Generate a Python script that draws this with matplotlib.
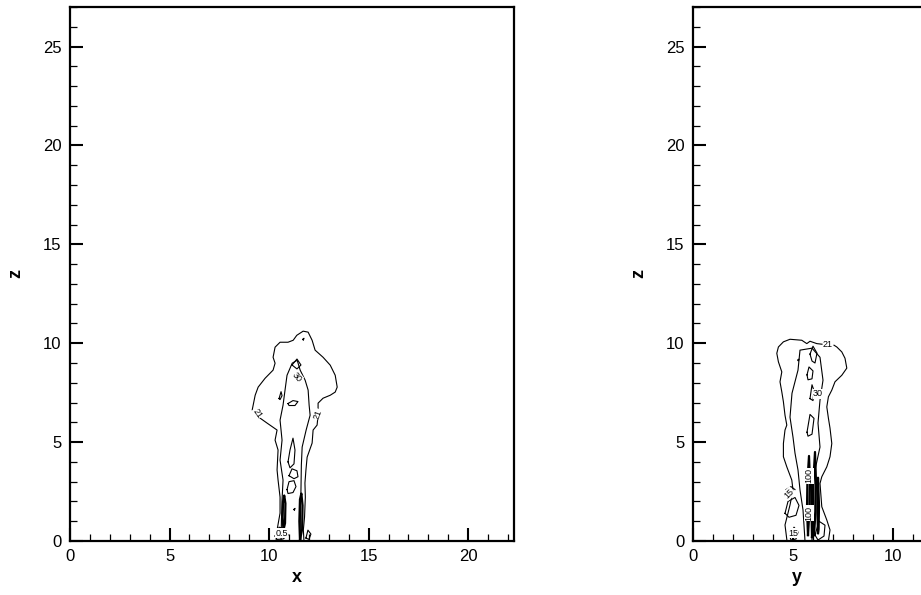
import matplotlib
matplotlib.use("Agg")
import matplotlib.pyplot as plt
from matplotlib.ticker import MultipleLocator

plt.rcParams['font.family'] = ['Liberation Sans', 'DejaVu Sans']

# ---------------- data ----------------
x_range = (0, 22.3)
y_range = (0, 11.4)          # right panel is cut by the picture edge
z_range = (0, 27)
x_major = [0, 5, 10, 15, 20]
y_major = [0, 5, 10]
z_major = [0, 5, 10, 15, 20, 25]

# Left panel (x-z plane): contour lines as (x, z) lists
xz_outer_21_x = [10.35, 10.40, 10.55, 10.55, 10.45, 10.40, 10.45, 10.30, 10.40, 9.90, 9.55, 9.30,
                 9.15, 9.20, 9.30, 9.45, 9.80, 10.20, 10.30, 10.20, 10.30, 10.55, 10.95, 11.21,
                 11.39, 11.71, 11.96, 12.16, 12.31, 12.71, 13.07, 13.32, 13.42, 13.32, 13.07,
                 12.71, 12.46, 12.46, 12.41, 12.21, 12.16, 11.91, 11.85, 11.80, 11.82, 11.78,
                 11.72, 11.75]
xz_outer_21_z = [0.00, 0.56, 1.41, 2.22, 3.08, 3.59, 4.60, 5.10, 5.61, 5.96, 6.21, 6.46,
                 6.62, 6.87, 7.37, 7.78, 8.23, 8.64, 8.99, 9.29, 9.80, 10.05, 10.05, 10.15,
                 10.40, 10.61, 10.56, 10.15, 9.65, 9.29, 8.89, 8.38, 7.78, 7.53, 7.37,
                 7.22, 6.97, 6.36, 5.86, 5.61, 4.95, 4.24, 3.59, 2.93, 2.22, 1.21,
                 0.56, 0.00]
xz_inner_30_x = [10.60, 10.62, 10.65, 10.70, 10.55, 10.65, 10.55, 10.70, 10.80, 10.90, 11.16,
                 11.41, 11.56, 11.81, 11.96, 12.01, 12.06, 11.86, 11.66, 11.62, 11.60, 11.58, 11.60]
xz_inner_30_z = [0.00, 1.06, 2.07, 3.08, 4.09, 5.10, 6.11, 6.87, 7.63, 8.38, 8.99,
                 9.14, 8.64, 8.13, 7.63, 6.87, 6.36, 5.61, 4.75, 3.84, 2.58, 1.31, 0.00]
xz_core_a_x = [10.72, 10.68, 10.70, 10.76, 10.82, 10.80, 10.72]
xz_core_a_z = [0.55, 1.20, 2.00, 2.30, 1.90, 0.90, 0.55]
xz_core_b_x = [11.55, 11.52, 11.55, 11.62, 11.68, 11.66, 11.55]
xz_core_b_z = [0.05, 1.00, 2.10, 2.40, 1.80, 0.60, 0.05]
xz_core_c_x = [10.95, 11.05, 11.20, 11.30, 11.25, 11.05, 10.95]
xz_core_c_z = [4.00, 4.60, 5.20, 4.60, 3.90, 3.70, 4.00]
xz_core_d_x = [10.90, 11.00, 11.25, 11.35, 11.20, 10.95, 10.90]
xz_core_d_z = [2.60, 3.00, 3.05, 2.75, 2.45, 2.40, 2.60]
xz_core_e_x = [11.00, 11.15, 11.40, 11.45, 11.25, 11.00]
xz_core_e_z = [3.30, 3.65, 3.55, 3.25, 3.15, 3.30]
xz_blob1_x = [11.15, 11.40, 11.60, 11.40, 11.15]
xz_blob1_z = [8.90, 9.20, 8.90, 8.70, 8.90]
xz_blob2_x = [10.50, 10.60, 10.65, 10.55, 10.50]
xz_blob2_z = [7.20, 7.55, 7.35, 7.15, 7.20]
xz_blob3_x = [10.95, 11.20, 11.45, 11.30, 11.00, 10.95]
xz_blob3_z = [6.95, 7.10, 7.05, 6.85, 6.85, 6.95]
xz_blob4_x = [10.30, 10.50, 10.80, 10.95, 10.70, 10.40, 10.30]
xz_blob4_z = [0.25, 0.70, 0.60, 0.30, 0.10, 0.08, 0.25]
xz_blob5_x = [11.85, 11.95, 12.10, 12.00, 11.85]
xz_blob5_z = [0.15, 0.55, 0.35, 0.08, 0.15]
xz_dot_x = [11.70, 11.75, 11.72, 11.70]
xz_dot_z = [10.20, 10.25, 10.15, 10.20]
xz_dot2_x = [11.25, 11.30, 11.27, 11.25]
xz_dot2_z = [1.60, 1.65, 1.55, 1.60]
xz_labels = [("21", 9.40, 6.45, -55), ("21", 12.46, 6.40, 70), ("30", 11.40, 8.30, -50),
             ("0.5", 10.62, 0.40, 0)]

# Right panel (y-z plane)
yz_outer_21_y = [4.70, 4.60, 4.85, 5.00, 4.94, 4.69, 4.52, 4.52, 4.60, 4.69, 4.60, 4.52, 4.44,
                 4.35, 4.44, 4.27, 4.19, 4.27, 4.52, 4.85, 5.44, 5.69, 5.85, 6.19, 6.45]
yz_outer_21_z = [0.00, 0.81, 1.82, 2.58, 3.08, 3.75, 4.26, 4.93, 5.61, 5.86, 6.36, 7.04, 7.54,
                 8.05, 8.55, 9.06, 9.49, 9.81, 10.07, 10.20, 10.15, 9.98, 10.10, 9.98, 9.95]
yz_outer_21b_y = [7.05, 7.19, 7.44, 7.60, 7.69, 7.44, 7.10, 6.94, 6.77, 6.69, 6.77, 6.85, 6.94,
                  6.85, 6.69, 6.44, 6.35, 6.44, 6.69, 6.85, 6.77]
yz_outer_21b_z = [9.90, 9.81, 9.56, 9.24, 8.74, 8.38, 8.05, 7.63, 7.29, 6.78, 6.21, 5.71, 4.93,
                  4.26, 3.75, 3.25, 2.91, 1.73, 1.06, 0.56, 0.00]
yz_inner_30_y = [5.60, 5.50, 5.35, 5.25, 5.10, 5.00, 4.85, 4.95, 5.25, 5.35, 5.95, 6.35, 6.50,
                 6.35, 6.25, 6.35, 6.10, 5.95, 5.95]
yz_inner_30_z = [0.00, 1.57, 2.58, 3.59, 4.44, 5.25, 6.26, 7.47, 8.64, 9.65, 9.75, 9.29, 8.13,
                 7.12, 5.96, 4.75, 3.59, 2.07, 0.00]
yz_core_a_y = [5.75, 5.70, 5.72, 5.80, 5.85, 5.82, 5.75]
yz_core_a_z = [0.30, 1.60, 3.00, 4.30, 3.00, 1.50, 0.30]
yz_core_b_y = [6.05, 6.00, 6.02, 6.10, 6.15, 6.12, 6.05]
yz_core_b_z = [0.30, 1.50, 3.10, 4.50, 3.00, 1.40, 0.30]
yz_core_c_y = [5.95, 5.92, 5.95, 6.00, 5.98, 5.95]
yz_core_c_z = [0.20, 1.80, 3.60, 2.00, 0.50, 0.20]
yz_core_d_y = [6.25, 6.22, 6.25, 6.30, 6.28, 6.25]
yz_core_d_z = [0.40, 1.50, 3.20, 1.80, 0.60, 0.40]
yz_blob1_y = [5.85, 6.00, 6.20, 6.10, 5.95, 5.85]
yz_blob1_z = [9.45, 9.85, 9.50, 9.00, 9.10, 9.45]
yz_blob2_y = [5.70, 5.80, 6.00, 5.95, 5.75, 5.70]
yz_blob2_z = [8.40, 8.80, 8.60, 8.20, 8.15, 8.40]
yz_blob3_y = [5.85, 5.95, 6.05, 6.00, 5.85]
yz_blob3_z = [7.20, 7.90, 7.60, 7.10, 7.20]
yz_blob4_y = [5.70, 5.85, 6.05, 5.95, 5.75, 5.70]
yz_blob4_z = [5.50, 6.40, 6.20, 5.40, 5.30, 5.50]
yz_blob5_y = [4.60, 4.75, 5.10, 5.30, 5.15, 4.80, 4.60]
yz_blob5_z = [1.40, 2.00, 2.20, 1.80, 1.30, 1.20, 1.40]
yz_blob6_y = [6.10, 6.30, 6.60, 6.55, 6.25, 6.10]
yz_blob6_z = [0.30, 1.00, 0.80, 0.25, 0.05, 0.30]
yz_blob7_y = [4.85, 5.05, 5.25, 5.15, 4.90, 4.85]
yz_blob7_z = [0.20, 0.70, 0.45, 0.10, 0.05, 0.20]
yz_dash_y = [4.65, 4.90, 5.10]
yz_dash_z = [2.60, 2.75, 2.60]
yz_dot_y = [5.25, 5.30, 5.27, 5.25]
yz_dot_z = [9.15, 9.20, 9.10, 9.15]
yz_labels = [("21", 6.75, 9.92, 0), ("30", 6.25, 7.45, 0), ("100", 5.80, 3.30, 90),
             ("100", 5.80, 1.40, 90), ("15", 4.80, 2.40, 45), ("15", 5.00, 0.40, 0)]

# ---------------- figure ----------------
FW, FH = 921, 595
fig = plt.figure(figsize=(FW / 100, FH / 100), dpi=100)
ax1 = fig.add_axes([70 / FW, 54 / FH, 444 / FW, 534 / FH])
ax2 = fig.add_axes([693 / FW, 54 / FH, 228 / FW, 534 / FH])

lw = 0.8
panels = [
    (ax1, [(xz_outer_21_x, xz_outer_21_z), (xz_inner_30_x, xz_inner_30_z),
           (xz_core_c_x, xz_core_c_z), (xz_core_d_x, xz_core_d_z), (xz_core_e_x, xz_core_e_z),
           (xz_blob1_x, xz_blob1_z), (xz_blob2_x, xz_blob2_z), (xz_blob3_x, xz_blob3_z),
           (xz_blob4_x, xz_blob4_z), (xz_blob5_x, xz_blob5_z), (xz_dot_x, xz_dot_z),
           (xz_dot2_x, xz_dot2_z)],
     [(xz_core_a_x, xz_core_a_z), (xz_core_b_x, xz_core_b_z)],
     xz_labels, "x", x_range, x_major, 444),
    (ax2, [(yz_outer_21_y, yz_outer_21_z), (yz_outer_21b_y, yz_outer_21b_z),
           (yz_inner_30_y, yz_inner_30_z),
           (yz_blob1_y, yz_blob1_z), (yz_blob2_y, yz_blob2_z), (yz_blob3_y, yz_blob3_z),
           (yz_blob4_y, yz_blob4_z), (yz_blob5_y, yz_blob5_z), (yz_blob6_y, yz_blob6_z),
           (yz_blob7_y, yz_blob7_z), (yz_dash_y, yz_dash_z), (yz_dot_y, yz_dot_z)],
     [(yz_core_a_y, yz_core_a_z), (yz_core_b_y, yz_core_b_z),
      (yz_core_c_y, yz_core_c_z), (yz_core_d_y, yz_core_d_z)],
     yz_labels, "y", y_range, y_major, 228),
]
label_x_px = {"x": 297 - 70, "y": 797 - 693}
for ax, lines, dense, labels, xl, xr, xmaj, wpx in panels:
    for xs, zs in lines:
        ax.plot(xs, zs, color="black", lw=lw, solid_joinstyle="round")
    for xs, zs in dense:
        ax.plot(xs, zs, color="black", lw=1.6, solid_joinstyle="round")
    for txt, xv, zv, rot in labels:
        ax.text(xv, zv, txt, fontsize=6.5, rotation=rot, ha="center", va="center",
                color="black", bbox=dict(facecolor="white", edgecolor="none", pad=0.3))
    ax.set_xlim(*xr)
    ax.set_ylim(*z_range)
    ax.set_xticks(xmaj)
    ax.set_yticks(z_major)
    ax.xaxis.set_minor_locator(MultipleLocator(1))
    ax.yaxis.set_minor_locator(MultipleLocator(1))
    ax.tick_params(which="major", direction="in", length=9.5, width=1.5, labelsize=12,
                   top=False, right=False, pad=6)
    ax.tick_params(which="minor", direction="in", length=5, width=0.9,
                   top=False, right=False)
    for s in ax.spines.values():
        s.set_linewidth(1.6)
    ax.set_xlabel(xl, fontsize=13, fontweight="bold")
    ax.xaxis.set_label_coords(label_x_px[xl] / wpx, -28 / 534)
    ax.set_ylabel("z", fontsize=13, fontweight="bold")
    ax.yaxis.set_label_coords(-46 / wpx, 0.5)

ax2.spines["right"].set_visible(False)

fig.savefig("out.png", dpi=100)
